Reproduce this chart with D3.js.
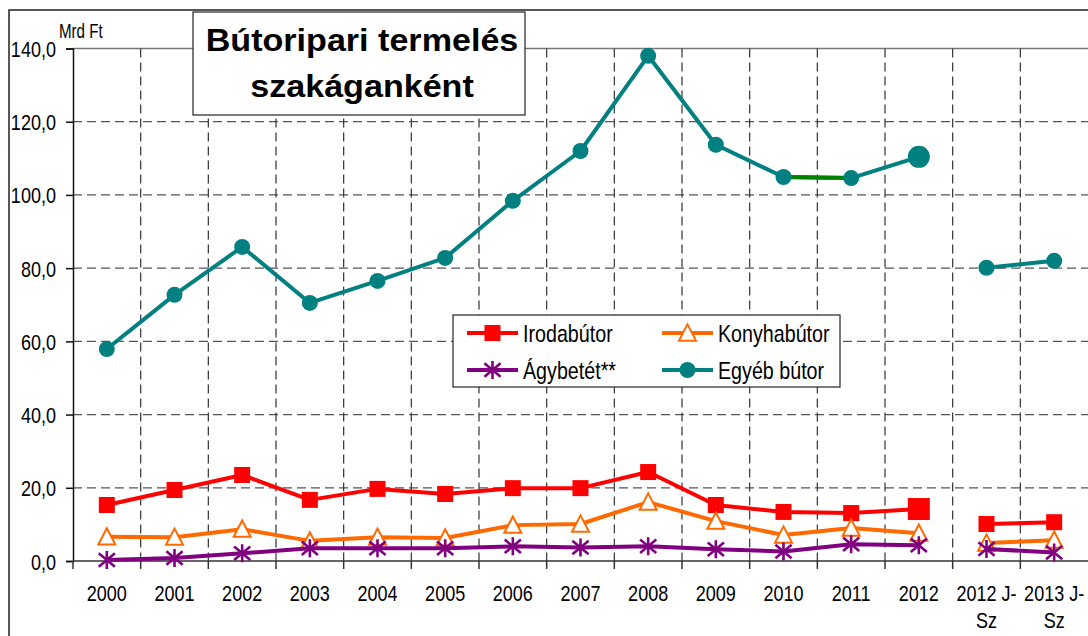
<!DOCTYPE html>
<html>
<head>
<meta charset="utf-8">
<script src="https://cdn.jsdelivr.net/npm/d3@7"></script>
<style>
  html, body { margin: 0; padding: 0; background: #fff; }
  svg { display: block; }
  text { font-family: "Liberation Sans", Arial, sans-serif; fill: #000; }
</style>
</head>
<body>
<svg id="chart" width="1088" height="636"></svg>
<script>
// Categories (years, then Jan–Sep periods)
const categories = ["2000","2001","2002","2003","2004","2005","2006","2007","2008","2009","2010","2011","2012","2012 J-Sz","2013 J-Sz"];

// Production by branch, billion HUF
const irodabutor  = [15.3, 19.4, 23.5, 16.7, 19.7, 18.3, 19.9, 19.9, 24.3, 15.3, 13.4, 13.1, 14.2, 10.1, 10.6];
const konyhabutor = [6.6, 6.5, 8.7, 5.5, 6.5, 6.3, 9.8, 10.1, 16.1, 10.9, 7.1, 9.0, 7.6, 4.9, 5.7];
const agybetet    = [0.3, 0.8, 2.1, 3.5, 3.5, 3.5, 4.0, 3.7, 4.0, 3.2, 2.6, 4.6, 4.3, 3.3, 2.3];
const egyebButor  = [57.9, 72.7, 85.8, 70.5, 76.5, 82.8, 98.4, 112.0, 138.0, 113.7, 104.9, 104.6, 110.4, 80.1, 82.0];

const yTicks = [0, 20, 40, 60, 80, 100, 120, 140];

const series = [
  { name: "Irodabútor",  values: irodabutor,  color: "#ff0000", marker: "square" },
  { name: "Konyhabútor", values: konyhabutor, color: "#ff6a00", marker: "triangle" },
  { name: "Ágybetét**",  values: agybetet,    color: "#800080", marker: "star" },
  { name: "Egyéb bútor", values: egyebButor,  color: "#008080", marker: "circle" }
];

const NARROW = 0.82; // horizontal squeeze for the condensed label face

const svg = d3.select("#chart");
const plot = { left: 73, right: 1088, top: 48.5, bottom: 561 };

const x = d3.scaleBand().domain(categories).range([plot.left, plot.right]).paddingInner(0).paddingOuter(0);
const y = d3.scaleLinear().domain([0, 140]).range([plot.bottom, plot.top]);
const cx = c => x(c) + x.bandwidth() / 2;

// condensed text helper
function narrowText(g, tx, ty, str, fs, anchor, squeeze) {
  return g.append("text")
    .attr("transform", `translate(${tx},${ty}) scale(${squeeze || NARROW},1)`)
    .attr("font-size", fs).attr("text-anchor", anchor || "start").text(str);
}

// outer frame
svg.append("rect").attr("x", 9).attr("y", 10).attr("width", 1100).attr("height", 700)
  .attr("fill", "none").attr("stroke", "#222").attr("stroke-width", 1.5);

// horizontal gridlines
svg.append("g").selectAll("line").data(yTicks.filter(t => t > 0 && t < 140)).join("line")
  .attr("x1", plot.left).attr("x2", plot.right)
  .attr("y1", d => y(d)).attr("y2", d => y(d))
  .attr("stroke", "#555").attr("stroke-width", 1.2).attr("stroke-dasharray", "9,5");

// top border of plot area
svg.append("line").attr("x1", plot.left).attr("x2", plot.right)
  .attr("y1", y(140)).attr("y2", y(140)).attr("stroke", "#777").attr("stroke-width", 1.5);

// vertical gridlines at category boundaries
svg.append("g").selectAll("line").data(categories.slice(1)).join("line")
  .attr("x1", d => x(d)).attr("x2", d => x(d))
  .attr("y1", plot.top).attr("y2", plot.bottom)
  .attr("stroke", "#333").attr("stroke-width", 1.2).attr("stroke-dasharray", "9,5");

// y axis
const yAxis = d3.axisLeft(y).tickValues(yTicks).tickSize(7).tickFormat(d => d3.format(".1f")(d).replace(".", ","));
const gy = svg.append("g").attr("transform", `translate(${plot.left},0)`).call(yAxis);
gy.select(".domain").attr("stroke", "#111").attr("stroke-width", 1.5);
gy.selectAll(".tick line").attr("stroke", "#111").attr("stroke-width", 1.5);
gy.selectAll(".tick text")
  .attr("x", 0).attr("dy", null).attr("y", 0)
  .attr("transform", `translate(-17,8) scale(${NARROW},1)`)
  .attr("font-size", 22).attr("fill", "#000").attr("font-family", "Liberation Sans, Arial, sans-serif");

// x axis with boundary ticks
const gx = svg.append("g");
gx.append("line").attr("x1", plot.left).attr("x2", plot.right)
  .attr("y1", plot.bottom).attr("y2", plot.bottom).attr("stroke", "#333").attr("stroke-width", 1.5);
gx.selectAll("line.tk").data(categories).join("line").attr("class", "tk")
  .attr("x1", d => x(d)).attr("x2", d => x(d))
  .attr("y1", plot.bottom).attr("y2", plot.bottom + 8)
  .attr("stroke", "#333").attr("stroke-width", 1.5);
categories.forEach(c => {
  const parts = c.includes("J-") ? [c.replace("Sz", "").trim(), "Sz"] : [c];
  parts.forEach((p, i) => narrowText(gx, cx(c), 601 + i * 27, p, 22, "middle"));
});

// unit label
narrowText(svg, 59, 38, "Mrd Ft", 21, "start", 0.72);

// markers
function drawMarker(g, type, color, px, py, size) {
  if (type === "square") {
    g.append("rect").attr("x", px - size / 2).attr("y", py - size / 2).attr("width", size).attr("height", size).attr("fill", color);
  } else if (type === "circle") {
    g.append("circle").attr("cx", px).attr("cy", py).attr("r", size / 2).attr("fill", color);
  } else if (type === "triangle") {
    const h = size * 0.9, w = size;
    g.append("path").attr("d", `M${px},${py - h / 2 - 1}L${px + w / 2},${py + h / 2}L${px - w / 2},${py + h / 2}Z`)
      .attr("fill", "#fff").attr("stroke", color).attr("stroke-width", 2);
  } else if (type === "star") {
    const r = size / 2, a = r * 0.9, b = r * 0.75;
    g.append("path").attr("d", `M${px},${py - r}V${py + r}M${px - a},${py - b}L${px + a},${py + b}M${px - a},${py + b}L${px + a},${py - b}`)
      .attr("stroke", color).attr("stroke-width", 2.6).attr("fill", "none");
  }
}
const markerSize = { square: 16, circle: 16, triangle: 17, star: 18 };

const line = d3.line().x(d => cx(d.c)).y(d => y(d.v));
const gapAfter = categories.indexOf("2012");

series.forEach(s => {
  const pts = s.values.map((v, i) => ({ c: categories[i], v }));
  const seg1 = pts.slice(0, gapAfter + 1), seg2 = pts.slice(gapAfter + 1);
  const g = svg.append("g");
  [seg1, seg2].forEach(seg => g.append("path").datum(seg).attr("d", line)
    .attr("fill", "none").attr("stroke", s.color).attr("stroke-width", 4).attr("stroke-linejoin", "round"));
  if (s.marker === "circle") {
    // 2010–2011 segment drawn in green
    const i10 = categories.indexOf("2010");
    g.append("path").datum(pts.slice(i10, i10 + 2)).attr("d", line)
      .attr("fill", "none").attr("stroke", "#008000").attr("stroke-width", 4);
  }
  pts.forEach((p, i) => {
    const big = (i === gapAfter) && (s.marker === "square" || s.marker === "circle");
    drawMarker(g, s.marker, s.color, cx(p.c), y(p.v), big ? 22 : markerSize[s.marker]);
  });
});

// legend
const lg = svg.append("g");
lg.append("rect").attr("x", 453).attr("y", 315).attr("width", 387).attr("height", 72)
  .attr("fill", "#fff").attr("stroke", "#222").attr("stroke-width", 1.2);
const legendPos = [[467, 333], [662, 333], [467, 370], [662, 370]];
series.forEach((s, k) => {
  const [lx, ly] = legendPos[k];
  lg.append("line").attr("x1", lx).attr("x2", lx + 51).attr("y1", ly).attr("y2", ly)
    .attr("stroke", s.color).attr("stroke-width", 4);
  drawMarker(lg, s.marker, s.color, lx + 25.5, ly, markerSize[s.marker]);
  narrowText(lg, lx + 56, ly + 8.5, s.name, 24);
});

// title box
const tg = svg.append("g");
tg.append("rect").attr("x", 193).attr("y", 12).attr("width", 332).attr("height", 103)
  .attr("fill", "#fff").attr("stroke", "#222").attr("stroke-width", 1.2);
["Bútoripari termelés", "szakáganként"].forEach((t, i) => {
  tg.append("text").attr("transform", `translate(362,${51 + i * 46}) scale(1.1,1)`)
    .attr("text-anchor", "middle").attr("font-weight", "bold").attr("font-size", 31).text(t);
});
</script>
</body>
</html>
